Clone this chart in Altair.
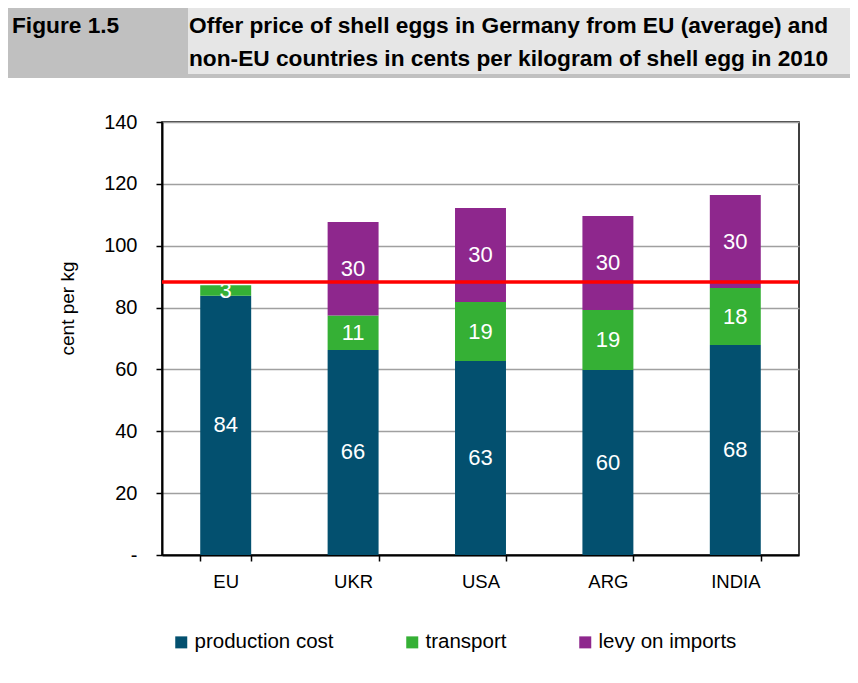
import altair as alt
import pandas as pd

# ---- data ----
countries = ["EU", "UKR", "USA", "ARG", "INDIA"]
production_cost = [83.8, 66.3, 62.7, 59.8, 67.9]
transport = [3.4, 11.1, 19.1, 19.4, 18.4]
levy_on_imports = [0.0, 30.3, 30.4, 30.4, 30.1]
series = ["production cost", "transport", "levy on imports"]
colors = ["#03506F", "#35B035", "#8E278D"]
reference_price = [88.3]
y_ticks = [0, 20, 40, 60, 80, 100, 120, 140]
figure_label = "Figure 1.5"
title_lines = [
    "Offer price of shell eggs in Germany from EU (average) and",
    "non-EU countries in cents per kilogram of shell egg in 2010",
]
y_title = "cent per kg"

rows = []
for i, c in enumerate(countries):
    for k, (s, vals) in enumerate(zip(series, [production_cost, transport, levy_on_imports])):
        if vals[i] > 0:
            rows.append({"country": c, "series": s, "order": k, "value": vals[i]})
df = pd.DataFrame(rows)

SANS = "Liberation Sans"

base = (
    alt.Chart(df)
    .transform_stack(
        stack="value",
        as_=["lo", "hi"],
        groupby=["country"],
        sort=[alt.SortField("order", order="ascending")],
    )
    .transform_calculate(mid="(datum.lo + datum.hi) / 2")
)

x_enc = alt.X(
    "country:N",
    sort=countries,
    scale=alt.Scale(paddingInner=0.6, paddingOuter=0.3),
    axis=alt.Axis(
        title=None,
        labelAngle=0,
        tickBand="extent",
        labelFont=SANS,
        labelFontSize=18.5,
        labelColor="black",
        labelPadding=11,
        tickSize=6,
        tickColor="black",
        tickWidth=1.5,
        domainColor="black",
        domainWidth=2,
        grid=False,
    ),
)

y_scale = alt.Scale(domain=[0, 140], nice=False)

bars = base.mark_bar().encode(
    x=x_enc,
    y=alt.Y(
        "lo:Q",
        scale=y_scale,
        title=y_title,
        axis=alt.Axis(
            values=y_ticks,
            labelExpr="datum.value == 0 ? '-\u00a0\u00a0' : datum.label",
            labelFont=SANS,
            labelFontSize=20,
            labelColor="black",
            labelPadding=19,
            tickSize=6,
            tickColor="black",
            tickWidth=1.5,
            domainColor="black",
            domainWidth=2,
            grid=True,
            gridColor="#A0A0A0",
            gridWidth=1.5,
            titleFont=SANS,
            titleFontSize=19,
            titleFontWeight="normal",
            titleColor="black",
            titlePadding=26,
            titleY=186,
        ),
    ),
    y2="hi:Q",
    color=alt.Color(
        "series:N",
        scale=alt.Scale(domain=series, range=colors),
        legend=alt.Legend(
            title=None,
            orient="none",
            legendX=9,
            legendY=510,
            direction="horizontal",
            symbolType="square",
            symbolSize=144,
            symbolStrokeWidth=0,
            labelFont=SANS,
            labelFontSize=20.5,
            labelColor="black",
            labelOffset=3,
            columnPadding=68,
            padding=0,
        ),
    ),
)

labels = base.mark_text(
    color="white", font=SANS, fontSize=22, baseline="middle", align="center"
).encode(
    x=alt.X("country:N", sort=countries),
    y=alt.Y("mid:Q", scale=y_scale),
    text=alt.Text("value:Q", format=".0f"),
)

rule = (
    alt.Chart(pd.DataFrame({"price": reference_price}))
    .mark_rule(color="#FF0000", strokeWidth=3.5)
    .encode(y=alt.Y("price:Q", scale=y_scale))
)

hdr = pd.DataFrame({"k": [0]})
band = alt.Chart(hdr).mark_rect(color="#C0C0C0").encode(
    x=alt.value(-154), x2=alt.value(688), y=alt.value(-114), y2=alt.value(-44)
)
box = alt.Chart(hdr).mark_rect(color="#E6E6E6").encode(
    x=alt.value(26), x2=alt.value(688), y=alt.value(-114), y2=alt.value(-48)
)
title_style = dict(
    align="left", baseline="alphabetic", font=SANS, fontWeight="bold", fontSize=22.7, color="black"
)
fig_text = alt.Chart(hdr).mark_text(**title_style).encode(
    x=alt.value(-150), y=alt.value(-89), text=alt.value(figure_label)
)
t1 = alt.Chart(hdr).mark_text(**title_style).encode(
    x=alt.value(27), y=alt.value(-89), text=alt.value(title_lines[0])
)
t2 = alt.Chart(hdr).mark_text(**title_style).encode(
    x=alt.value(27), y=alt.value(-56), text=alt.value(title_lines[1])
)

chart = (
    alt.layer(band, box, bars, labels, rule, fig_text, t1, t2)
    .properties(
        width=637,
        height=433,
        padding={"left": 154, "top": 114, "right": 51, "bottom": 120},
        autosize=alt.AutoSizeParams(type="none"),
        background="white",
    )
    .configure_view(stroke="black", strokeWidth=1.5)
)

chart.save("out.html", embed_options={"renderer": "svg", "actions": False})
